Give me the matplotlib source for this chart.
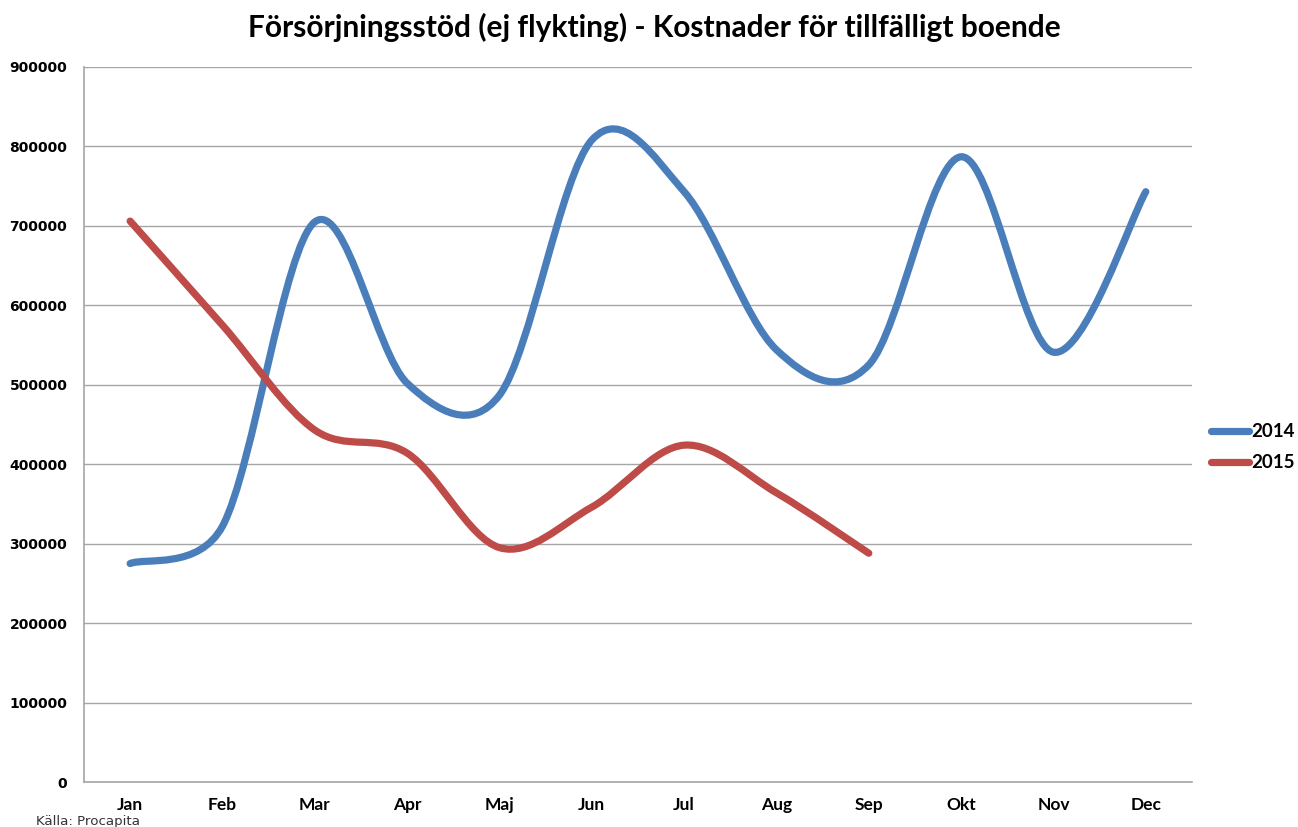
import numpy as np
import matplotlib
matplotlib.use("Agg")
from matplotlib import pyplot as plt
from matplotlib.path import Path
from matplotlib.patches import PathPatch
from matplotlib.lines import Line2D

months = ['Jan', 'Feb', 'Mar', 'Apr', 'Maj', 'Jun', 'Jul', 'Aug', 'Sep', 'Okt', 'Nov', 'Dec']
cost_2014 = [275000, 322000, 705000, 502000, 487000, 808000, 743000, 544000, 525000, 787000, 541000, 743000]
cost_2015 = [706000, 575000, 443000, 414000, 295000, 346000, 424000, 364000, 288000]

blue = '#4A7EBB'
red = '#BE4B48'


# Excel-style smoothed line: bezier segments, control points worked out in pixels
def smooth_path(ax, xs, ys):
    pts = ax.transData.transform(np.column_stack([xs, ys]).astype(float))
    n = len(pts)
    verts = [pts[0]]
    codes = [Path.MOVETO]
    for i in range(n - 1):
        p0 = pts[i - 1] if i > 0 else pts[i]
        p1 = pts[i]
        p2 = pts[i + 1]
        p3 = pts[i + 2] if i + 2 < n else pts[i + 1]
        d02 = np.hypot(*(p2 - p0))
        d12 = np.hypot(*(p2 - p1))
        d13 = np.hypot(*(p3 - p1))
        f = 1 / 6 if d02 / 6 < d12 / 2 else d12 / (2 * d02)
        g = 1 / 6 if d13 / 6 < d12 / 2 else d12 / (2 * d13)
        c1 = p1 + (p2 - p0) * f
        c2 = p2 - (p3 - p1) * g
        verts += [c1, c2, p2]
        codes += [Path.CURVE4] * 3
    verts = ax.transData.inverted().transform(np.array(verts))
    return Path(verts, codes)


fig = plt.figure(figsize=(12.98, 8.27), dpi=100)
ax = fig.add_axes([0.0647, 0.0544, 0.8536, 0.8646])

x = np.arange(len(months))
ax.set_xlim(-0.5, 11.5)
ax.set_ylim(0, 900000)

for vals, col in [(cost_2014, blue), (cost_2015, red)]:
    p = smooth_path(ax, x[:len(vals)], vals)
    ax.add_patch(PathPatch(p, facecolor='none', edgecolor=col, lw=5.2,
                           capstyle='round', joinstyle='round', zorder=3))

ax.set_yticks(np.arange(0, 900001, 100000))
ax.set_yticklabels([str(v) for v in range(0, 900001, 100000)])
ax.set_xticks(x)
ax.set_xticklabels(months)
ax.tick_params(axis='both', length=0)
ax.tick_params(axis='x', pad=11)
ax.tick_params(axis='y', pad=12)
for t in ax.get_yticklabels():
    t.set_fontfamily('DejaVu Sans')
    t.set_fontweight('bold')
    t.set_fontsize(10)
for t in ax.get_xticklabels():
    t.set_fontfamily('Lato')
    t.set_fontweight('bold')
    t.set_fontsize(12.5)
ax.grid(axis='y', color='#A6A6A6', lw=1)
ax.set_axisbelow(True)
for s in ['top', 'right']:
    ax.spines[s].set_visible(False)
for s in ['left', 'bottom']:
    ax.spines[s].set_color('#A6A6A6')
    ax.spines[s].set_linewidth(1.2)

fig.text(0.504, 0.967, 'Försörjningsstöd (ej flykting) - Kostnader för tillfälligt boende',
         ha='center', va='center', fontsize=21.5, fontweight='bold', family='Lato')

handles = [Line2D([], [], color=blue, lw=5.2, solid_capstyle='round'),
           Line2D([], [], color=red, lw=5.2, solid_capstyle='round')]
fig.legend(handles, ['2014', '2015'], loc='center left', bbox_to_anchor=(0.933, 0.459),
           frameon=False, borderpad=0, borderaxespad=0,
           prop={'family': 'Lato', 'size': 13.5, 'weight': 'bold'},
           handlelength=2.0, handletextpad=0.15, labelspacing=0.75)

fig.text(0.028, 0.003, 'Källa: Procapita', fontsize=9.6, family='DejaVu Sans', color='#333333')

fig.savefig('out.png', dpi=100)
